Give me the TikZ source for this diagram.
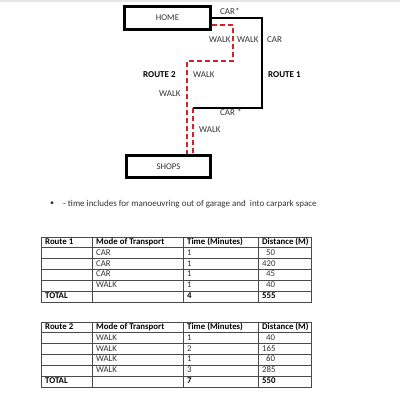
\documentclass[tikz,border=0pt]{standalone}
\usepackage{fontspec}
\setmainfont{Carlito}
\usetikzlibrary{positioning}
\definecolor{mapred}{HTML}{D2232A}
\definecolor{gridgray}{HTML}{4A4A4A}
\definecolor{topline}{HTML}{E6E6E6}
\definecolor{inkgray}{HTML}{333333}
\newcommand{\dpad}{\hspace*{4pt}}
\tikzset{
  place/.style={draw=black, line width=3pt, inner sep=0pt, font=\fontsize{8.8}{10}\selectfont, text=inkgray},
  lbl/.style={anchor=west, inner sep=0pt, font=\fontsize{9}{10}\selectfont, text=inkgray},
  blbl/.style={anchor=west, inner sep=0pt, font=\fontsize{9}{10}\selectfont\bfseries, text=black},
  carpath/.style={line width=2pt, black},
  walkpath/.style={line width=2.5pt, mapred, dash pattern=on 5pt off 3pt},
  cell/.style={anchor=base west, inner sep=0pt, font=\fontsize{8.8}{10}\selectfont, text=inkgray},
  hcell/.style={anchor=base west, inner sep=0pt, font=\fontsize{8.8}{10}\selectfont\bfseries, text=black},
  grid/.style={gridgray, line width=0.8pt},
}
\begin{document}
\begin{tikzpicture}[x=1pt,y=-1pt]
  \useasboundingbox (0,0) rectangle (400,400);
  \fill[topline] (0,0) rectangle (400,1.5);
  % the two places
  \node[place, minimum width=86pt, minimum height=23pt] (home) at (167.5,18) {HOME};
  \node[place, minimum width=84pt, minimum height=22pt] (shops) at (168.5,166.5) {SHOPS};
  % route 1: car, then walk
  \coordinate (ra) at (262,18);
  \coordinate (rb) at (262,108);
  \coordinate (rc) at (193,108);
  \draw[carpath] (home.east) -- (ra) -- (rb) -- (rc);
  \draw[walkpath] (rc) -- (rc |- shops.north);
  % route 2: walk all the way
  \coordinate (wa) at (233,25);
  \coordinate (wb) at (233,61);
  \coordinate (wc) at (187,61);
  \draw[walkpath] (home.east |- wa) -- (wa) -- (wb) -- (wc) -- (wc |- shops.north);
  % labels
  \node[lbl] (carstart) at (220,11) {CAR*};
  \node[lbl] (walka) at (209,40) {WALK};
  \node[lbl] (walkb) at (237,40) {WALK};
  \node[lbl] (cara) at (267,40) {CAR};
  \node[blbl] (routeii) at (143,75) {ROUTE 2};
  \node[lbl] (walkc) at (193,75) {WALK};
  \node[blbl] (routei) at (268,75) {ROUTE 1};
  \node[lbl] (walkd) at (159,94) {WALK};
  \node[lbl] (carend) at (220,112) {CAR *};
  \node[lbl] (walke) at (199,130) {WALK};
  % note
  \node[lbl, anchor=center, font=\fontsize{8}{9}\selectfont] (bullet) at (52,204) {\textbullet};
  \node[lbl] (note) at (63,204) {- time includes for manoeuvring out of garage and\ \ into carpark space};
  % table grids
  \foreach \yy in {237,322} {
    \draw[grid] (41,\yy) rectangle (311,\yy+65);
    \foreach \k in {1,...,5} \draw[grid] (41,\yy+10.83*\k) -- (311,\yy+10.83*\k);
    \foreach \x in {92,183,258} \draw[grid] (\x,\yy) -- (\x,\yy+65);
  }
  % table 1
  \node[hcell] (ah1) at (45,244.5) {Route 1};
  \node[hcell] (ah2) at (96,244.5) {Mode of Transport};
  \node[hcell] (ah3) at (187,244.5) {Time (Minutes)};
  \node[hcell] (ah4) at (262,244.5) {Distance (M)};
  \foreach \m/\t/\d [count=\i] in {CAR/1/\dpad 50, CAR/1/420, CAR/1/\dpad 45, WALK/1/\dpad 40} {
    \node[cell] (am\i) at (96,244.5+10.83*\i) {\m};
    \node[cell] (at\i) at (187,244.5+10.83*\i) {\t};
    \node[cell] (ad\i) at (262,244.5+10.83*\i) {\d};
  }
  \node[hcell] (atot) at (45,298.7) {TOTAL};
  \node[hcell] (attot) at (187,298.7) {4};
  \node[hcell] (adtot) at (262,298.7) {555};
  % table 2
  \node[hcell] (bh1) at (45,329.5) {Route 2};
  \node[hcell] (bh2) at (96,329.5) {Mode of Transport};
  \node[hcell] (bh3) at (187,329.5) {Time (Minutes)};
  \node[hcell] (bh4) at (262,329.5) {Distance (M)};
  \foreach \m/\t/\d [count=\i] in {WALK/1/\dpad 40, WALK/2/165, WALK/1/\dpad 60, WALK/3/285} {
    \node[cell] (bm\i) at (96,329.5+10.83*\i) {\m};
    \node[cell] (bt\i) at (187,329.5+10.83*\i) {\t};
    \node[cell] (bd\i) at (262,329.5+10.83*\i) {\d};
  }
  \node[hcell] (btot) at (45,383.7) {TOTAL};
  \node[hcell] (bttot) at (187,383.7) {7};
  \node[hcell] (bdtot) at (262,383.7) {550};
\end{tikzpicture}
\end{document}
